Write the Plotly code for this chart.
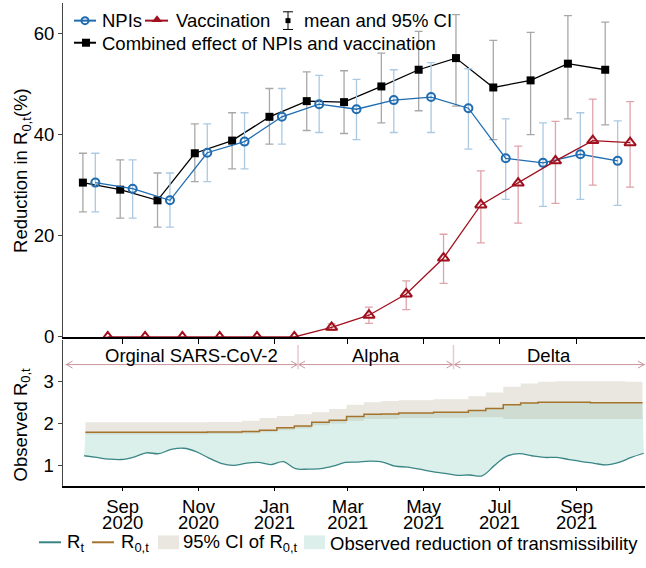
import pandas as pd
import plotly.graph_objects as go

W, H = 646, 568
FONT = "Liberation Sans, Arial, sans-serif"
FS = 18.5

# ---------------- top panel data (30-day windows) ----------------
window_start = "2020-08-10"
npi_mean = [30.5, 29.3, 27.0, 36.4, 38.6, 43.5, 46.0, 45.0, 46.8, 47.4, 45.2, 35.3, 34.4, 36.1, 34.8]
npi_upper = [36.3, 35.0, 32.4, 42.1, 44.3, 49.1, 51.7, 50.9, 52.8, 54.2, 53.0, 43.1, 42.3, 44.3, 42.7]
npi_lower = [24.7, 23.5, 21.7, 30.7, 33.2, 38.1, 40.4, 39.0, 40.4, 40.4, 37.1, 27.2, 25.8, 27.2, 26.0]

vac_mean = [0, 0, 0, 0, 0, 0, 1.9, 4.3, 8.5, 15.6, 26.1, 30.4, 34.8, 38.8, 38.4]
vac_upper = [0, 0, 0, 0, 0, 0, 2.6, 5.9, 11.1, 20.3, 32.8, 37.7, 42.6, 47.0, 46.5]
vac_lower = [0, 0, 0, 0, 0, 0, 1.3, 2.7, 5.4, 10.6, 18.6, 22.5, 26.4, 30.0, 29.6]

comb_mean = [30.5, 29.1, 27.0, 36.3, 38.8, 43.5, 46.6, 46.4, 49.5, 52.8, 55.1, 49.3, 50.7, 54.0, 52.8]
comb_upper = [36.3, 35.0, 32.4, 42.1, 44.3, 49.1, 52.4, 52.6, 56.1, 60.4, 63.7, 58.6, 60.2, 63.5, 62.2]
comb_lower = [24.7, 23.5, 21.7, 30.7, 33.2, 38.1, 40.8, 40.2, 42.3, 44.7, 45.6, 39.0, 40.0, 43.1, 41.9]

# ---------------- bottom panel data ----------------
rt_start = "2020-08-01"   # every 10 days
rt_values = [1.23, 1.19, 1.15, 1.14, 1.20, 1.30, 1.28, 1.38, 1.41, 1.33, 1.18, 1.05, 1.00, 1.05,
             1.07, 1.02, 1.09, 0.92, 0.91, 0.92, 0.98, 1.07, 1.08, 1.10, 1.08, 0.98, 0.96, 0.91,
             0.85, 0.81, 0.76, 0.77, 0.75, 1.00, 1.22, 1.28, 1.23, 1.19, 1.19, 1.14, 1.09, 1.05,
             1.01, 1.07, 1.19, 1.29]

r0_start = "2020-08-02"   # every 14 days
r0_values = [1.79, 1.79, 1.79, 1.79, 1.79, 1.79, 1.79, 1.80, 1.80, 1.81, 1.84, 1.90, 1.94, 2.03,
             2.08, 2.17, 2.22, 2.23, 2.25, 2.25, 2.27, 2.27, 2.31, 2.36, 2.45, 2.49, 2.51, 2.51,
             2.51, 2.50, 2.50, 2.50, 2.50]
r0_ci_upper = [2.03, 2.03, 2.03, 2.03, 2.03, 2.03, 2.03, 2.04, 2.04, 2.07, 2.13, 2.18, 2.22, 2.27,
               2.35, 2.45, 2.51, 2.54, 2.56, 2.56, 2.58, 2.58, 2.65, 2.74, 2.88, 2.96, 3.00, 3.01,
               3.01, 3.01, 3.01, 3.00, 3.00]
r0_ci_lower = [1.74, 1.74, 1.74, 1.74, 1.74, 1.74, 1.74, 1.75, 1.75, 1.76, 1.79, 1.84, 1.88, 1.96,
               2.00, 2.07, 2.11, 2.11, 2.13, 2.13, 2.14, 2.14, 2.15, 2.15, 2.11, 2.11, 2.11, 2.11,
               2.11, 2.11, 2.11, 2.11, 2.11]

variant_names = ["Orginal SARS-CoV-2", "Alpha", "Delta"]
variant_starts = ["2020-07-17", "2021-01-20", "2021-05-25"]
variant_ends = ["2021-01-20", "2021-05-25", "2021-10-26"]

month_ticks = ["2020-09-01", "2020-11-01", "2021-01-01", "2021-03-01", "2021-05-01", "2021-07-01", "2021-09-01"]
month_names = ["Sep", "Nov", "Jan", "Mar", "May", "Jul", "Sep"]
month_years = ["2020", "2020", "2021", "2021", "2021", "2021", "2021"]

# ---------------- derived positions ----------------
windows = pd.date_range(window_start, periods=len(npi_mean), freq="30D")
off = pd.Timedelta(days=10)
rt_dates = pd.date_range(rt_start, periods=len(rt_values), freq="10D")
r0_dates = pd.date_range(r0_start, periods=len(r0_values), freq="14D")

BLUE = "#1f6cb0"
RED = "#a0101e"
BLACK = "#000000"
TEAL = "#3a8585"
BROWN = "#a5742c"

fig = go.Figure()


def err(m, u, l):
    return [a - b for a, b in zip(u, m)], [b - c for b, c in zip(m, l)]


up, dn = err(comb_mean, comb_upper, comb_lower)
fig.add_trace(go.Scatter(x=windows - off, y=comb_mean, mode="lines+markers",
                         line=dict(color=BLACK, width=1.3),
                         marker=dict(symbol="square", size=8, color=BLACK),
                         error_y=dict(type="data", symmetric=False, array=up, arrayminus=dn,
                                      color="#a8a8a8", thickness=1.3, width=4),
                         xaxis="x", yaxis="y", showlegend=False))
up, dn = err(npi_mean, npi_upper, npi_lower)
fig.add_trace(go.Scatter(x=windows, y=npi_mean, mode="lines+markers",
                         line=dict(color=BLUE, width=1.3),
                         marker=dict(symbol="circle-open", size=8, color=BLUE, line=dict(width=2)),
                         error_y=dict(type="data", symmetric=False, array=up, arrayminus=dn,
                                      color="#abc9e3", thickness=1.3, width=4),
                         xaxis="x", yaxis="y", showlegend=False))
up, dn = err(vac_mean, vac_upper, vac_lower)
fig.add_trace(go.Scatter(x=windows + off, y=vac_mean, mode="lines+markers",
                         line=dict(color=RED, width=1.3),
                         marker=dict(symbol="triangle-up-open", size=10, color=RED, line=dict(width=2)),
                         error_y=dict(type="data", symmetric=False, array=up, arrayminus=dn,
                                      color="#dfa3aa", thickness=1.3, width=4),
                         xaxis="x", yaxis="y", showlegend=False))

# bottom panel fills
fig.add_trace(go.Scatter(x=r0_dates, y=r0_values, mode="lines", line=dict(width=0, shape="hv"),
                         xaxis="x2", yaxis="y2", showlegend=False, hoverinfo="skip"))
fig.add_trace(go.Scatter(x=rt_dates, y=rt_values, mode="lines", fill="tonexty",
                         fillcolor="rgba(140,205,190,0.30)",
                         line=dict(width=0, shape="spline", smoothing=1),
                         xaxis="x2", yaxis="y2", showlegend=False, hoverinfo="skip"))
fig.add_trace(go.Scatter(x=r0_dates, y=r0_ci_lower, mode="lines", line=dict(width=0, shape="hv"),
                         xaxis="x2", yaxis="y2", showlegend=False, hoverinfo="skip"))
fig.add_trace(go.Scatter(x=r0_dates, y=r0_ci_upper, mode="lines", fill="tonexty",
                         fillcolor="rgba(175,165,140,0.27)", line=dict(width=0, shape="hv"),
                         xaxis="x2", yaxis="y2", showlegend=False, hoverinfo="skip"))
fig.add_trace(go.Scatter(x=r0_dates, y=r0_values, mode="lines", line=dict(color=BROWN, width=1.5, shape="hv"),
                         xaxis="x2", yaxis="y2", showlegend=False))
fig.add_trace(go.Scatter(x=rt_dates, y=rt_values, mode="lines",
                         line=dict(color=TEAL, width=1.3, shape="spline", smoothing=1),
                         xaxis="x2", yaxis="y2", showlegend=False))
# carrier for the year-label axis (invisible)
fig.add_trace(go.Scatter(x=rt_dates[:1], y=[None], mode="markers", xaxis="x4", yaxis="y2",
                         showlegend=False, hoverinfo="skip"))

# ---------------- overlay pixel axis for legends ----------------
def ov(x, y, **kw):
    fig.add_trace(go.Scatter(x=x, y=y, xaxis="x3", yaxis="y3", showlegend=False, hoverinfo="skip", **kw))

# top legend
ov([74, 96], [21, 21], mode="lines", line=dict(color=BLUE, width=2))
ov([85], [21], mode="markers", marker=dict(symbol="circle-open", size=7, color=BLUE, line=dict(width=2)))
ov([145, 168], [21, 21], mode="lines", line=dict(color=RED, width=2))
ov([157], [20], mode="markers", marker=dict(symbol="triangle-up", size=9, color=RED))
ov([288], [21], mode="markers", marker=dict(symbol="square", size=5, color=BLACK),
   error_y=dict(type="data", array=[9], color=BLACK, thickness=1, width=5))
ov([74, 96], [43.5, 43.5], mode="lines", line=dict(color=BLACK, width=2))
ov([86], [43.5], mode="markers", marker=dict(symbol="square", size=8, color=BLACK))
# bottom legend
ov([39, 61], [552, 552], mode="lines", line=dict(color=TEAL, width=2))
ov([92, 114], [552, 552], mode="lines", line=dict(color=BROWN, width=2))

ann = []


def txt(x, y, s, size=FS, xanchor="left", angle=0):
    ann.append(dict(x=x, y=y, xref="x3", yref="y3", text=s, showarrow=False, xanchor=xanchor,
                    yanchor="middle", textangle=angle, font=dict(size=size, color="black", family=FONT)))


txt(100, 21, "NPIs")
txt(174, 21, "Vaccination")
txt(302, 21, "mean and 95% CI")
txt(100, 44, "Combined effect of NPIs and vaccination")
txt(65, 553, "R<sub>t</sub>")
txt(119, 553, "R<sub>0,t</sub>")
txt(181, 553, "95% CI of R<sub>0,t</sub>")
txt(328, 553, "Observed reduction of transmissibility")
txt(22, 174, "Reduction in R<sub>0,t</sub>(%)", xanchor="center", angle=-90)
txt(22, 432, "Observed R<sub>0,t</sub>", xanchor="center", angle=-90)

shapes = [
    dict(type="rect", xref="x3", yref="y3", x0=158, x1=179, y0=545, y1=559,
         fillcolor="rgb(234,231,224)", line=dict(width=0)),
    dict(type="rect", xref="x3", yref="y3", x0=304, x1=325, y0=545, y1=559,
         fillcolor="rgb(220,239,234)", line=dict(width=0)),
]

# variant periods
ARROW = "#c9959c"
ARROW_Y = 3.41
data_start = pd.Timestamp(rt_start)
for name, s, e in zip(variant_names, variant_starts, variant_ends):
    s_ts, e_ts = pd.Timestamp(s), pd.Timestamp(e)
    shapes.append(dict(type="line", xref="x2", yref="y2", x0=s, x1=e, y0=ARROW_Y, y1=ARROW_Y,
                       line=dict(color=ARROW, width=1)))
    shapes.append(dict(type="path", xref="x2", yref="y2", xsizemode="pixel", ysizemode="pixel",
                       xanchor=s, yanchor=ARROW_Y, path="M 7,-3.5 L 1,0 L 7,3.5",
                       line=dict(color=ARROW, width=1)))
    shapes.append(dict(type="path", xref="x2", yref="y2", xsizemode="pixel", ysizemode="pixel",
                       xanchor=e, yanchor=ARROW_Y, path="M -7,-3.5 L -1,0 L -7,3.5",
                       line=dict(color=ARROW, width=1)))
    mid = max(s_ts, data_start) + (e_ts - max(s_ts, data_start)) / 2
    ann.append(dict(x=mid, y=3.63, xref="x2", yref="y2", text=name, showarrow=False,
                    xanchor="center", yanchor="middle", font=dict(size=FS, color="black", family=FONT)))
for b in variant_starts[1:]:
    shapes.append(dict(type="line", xref="x2", yref="y2", x0=b, x1=b, y0=3.30, y1=3.88,
                       line=dict(color="#e8c9ce", width=1.5)))

xr = ["2020-07-15", "2021-10-26"]
xdom = [63 / W, 645 / W]
tickfont = dict(size=FS, color="black", family=FONT)

fig.update_layout(
    width=W, height=H, margin=dict(l=0, r=0, t=0, b=0),
    paper_bgcolor="white", plot_bgcolor="rgba(0,0,0,0)",
    font=dict(family=FONT, size=FS, color="black"),
    showlegend=False, annotations=ann, shapes=shapes,
    xaxis=dict(domain=xdom, anchor="y", range=xr, type="date", tickvals=month_ticks, showticklabels=False,
               ticks="outside", ticklen=5, tickcolor="black", showline=True, linecolor="black", linewidth=2,
               showgrid=False, zeroline=False, fixedrange=True),
    yaxis=dict(domain=[1 - 343 / H, 1 - 3 / H], anchor="x", range=[0, 66], tickvals=[0, 20, 40, 60],
               ticks="outside", ticklen=4, tickcolor="#444", showline=True, linecolor="#444", linewidth=1,
               showgrid=False, zeroline=False, tickfont=tickfont, fixedrange=True),
    xaxis2=dict(domain=xdom, anchor="y2", range=xr, type="date", tickvals=month_ticks, ticktext=month_names,
                ticks="outside", ticklen=3, tickcolor="black", showline=True, linecolor="black", linewidth=1.5,
                showgrid=False, zeroline=False, tickfont=tickfont, fixedrange=True),
    xaxis4=dict(domain=xdom, anchor="y2", overlaying="x2", side="bottom", range=xr, type="date",
                tickvals=month_ticks, ticktext=month_years, ticks="", ticklabelstandoff=23,
                showline=False, showgrid=False, zeroline=False, tickfont=tickfont, fixedrange=True),
    yaxis2=dict(domain=[1 - 495 / H, 1 - 346 / H], anchor="x2", range=[0.5, 4], tickvals=[1, 2, 3],
                ticks="outside", ticklen=4, tickcolor="#444", showline=True, linecolor="#444", linewidth=1.5,
                showgrid=False, zeroline=False, tickfont=tickfont, fixedrange=True),
    xaxis3=dict(domain=[0, 1], anchor="y3", range=[0, W], visible=False, fixedrange=True),
    yaxis3=dict(domain=[0, 1], anchor="x3", range=[H, 0], visible=False, fixedrange=True),
)

post = (
    "var s=document.createElement('style');"
    "s.textContent='html,body{margin:0!important;padding:0!important;overflow:hidden!important;"
    "width:646px;height:568px;}';"
    "document.head.appendChild(s);"
)
fig.write_html("out.html", config={"displayModeBar": False, "staticPlot": True}, post_script=post)
